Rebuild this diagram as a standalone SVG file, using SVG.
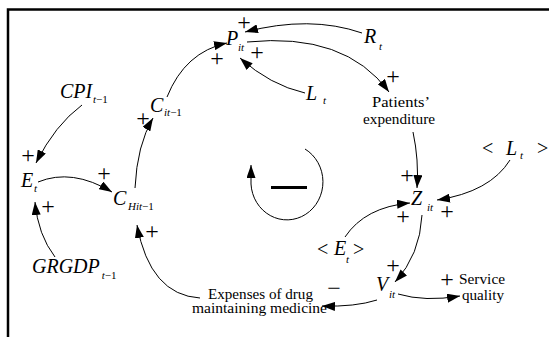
<svg xmlns="http://www.w3.org/2000/svg" width="549" height="337" viewBox="0 0 549 337">
<style>
  text { fill: #000; }
  .v { font-style: italic; font-size: 20px; }
  .s { font-style: italic; font-size: 11px; }
  .n { font-style: normal; }
  .lab { font-size: 14px; }
  .sym { font-size: 20px; }
  .pl { font-size: 24px; text-anchor: middle; }
  .c { fill: none; stroke: #000; stroke-width: 1; marker-end: url(#ah); }
</style>
<defs>
  <marker id="ah" markerUnits="userSpaceOnUse" markerWidth="13" markerHeight="9" refX="13" refY="4.5" orient="auto">
    <path d="M0,0 L13,4.5 L0,9 Z" fill="#000"/>
  </marker>
</defs>
<rect width="549" height="337" fill="#fff"/>
<path d="M8,337 V9.5 H549" fill="none" stroke="#000" stroke-width="2.5"/>

<g id="connectors">
  <path class="c" d="M82,105 Q55,125 36,163"/>
  <path class="c" d="M55,257 Q38,235 35,202"/>
  <path class="c" d="M38,182 Q72,168 112,192"/>
  <path class="c" d="M135,188 Q137,145 153,118"/>
  <path class="c" d="M167,97 Q185,52 227,43"/>
  <path class="c" d="M362,33 Q310,15 245,32"/>
  <path class="c" d="M247,42 Q345,32 389,92"/>
  <path class="c" d="M305,93 Q270,85 240,58"/>
  <path class="c" d="M413,132 Q419,160 417,188"/>
  <path class="c" d="M510,160 Q490,192 437,200"/>
  <path class="c" d="M345,237 Q365,207 410,203"/>
  <path class="c" d="M422,215 Q420,255 395,282"/>
  <path class="c" d="M377,300 Q355,307 322,306"/>
  <path class="c" d="M398,294 Q425,302 460,296"/>
  <path class="c" d="M200,298 Q150,295 137,225"/>
  <path class="c" d="M305,149 A36,38 0 1 1 251,184 L251,165"/>
  <rect x="271" y="186" width="36" height="3" fill="#000"/>
</g>

<g font-family="Liberation Serif, serif">
<g id="plus-signs">
  <text class="pl" x="244" y="30">+</text>
  <text class="pl" x="217" y="66">+</text>
  <text class="pl" x="257" y="60">+</text>
  <text class="pl" x="143" y="126">+</text>
  <text class="pl" x="28" y="163">+</text>
  <text class="pl" x="104" y="181">+</text>
  <text class="pl" x="48" y="214">+</text>
  <text class="pl" x="152" y="239">+</text>
  <text class="pl" x="393" y="84">+</text>
  <text class="pl" x="407" y="183">+</text>
  <text class="pl" x="403" y="224">+</text>
  <text class="pl" x="447" y="219">+</text>
  <text class="pl" x="393" y="273">+</text>
  <text class="pl" x="447" y="287">+</text>
  <text class="pl" x="334" y="296">−</text>
</g>

<g id="node-P">
  <text class="v" x="226" y="45">P</text><text class="s" x="238" y="51">it</text>
</g>
<g id="node-R">
  <text class="v" x="364" y="43">R</text><text class="s" x="379" y="50">t</text>
</g>
<g id="node-L">
  <text class="v" x="306" y="100">L</text><text class="s" x="323" y="104">t</text>
</g>
<g id="node-CPI">
  <text class="v" x="60" y="98">CPI</text><text class="s" x="93" y="103">t<tspan class="n">−1</tspan></text>
</g>
<g id="node-E">
  <text class="v" x="21" y="187">E</text><text class="s" x="34" y="192">t</text>
</g>
<g id="node-CHit">
  <text class="v" x="113" y="205">C</text><text class="s" x="128" y="210" font-size="10.5">Hit<tspan class="n">−1</tspan></text>
</g>
<g id="node-Cit">
  <text class="v" x="150" y="112">C</text><text class="s" x="164" y="116">it<tspan class="n">−1</tspan></text>
</g>
<g id="node-GRGDP">
  <text class="v" x="32" y="273" font-size="16.5">GRGDP<tspan dx="2" dy="6" font-size="11">t</tspan><tspan class="n" font-size="11">−1</tspan></text>
</g>
<g id="node-Z">
  <text class="v" x="411" y="205">Z</text><text class="s" x="427" y="211">it</text>
</g>
<g id="node-V">
  <text class="v" x="376" y="291">V</text><text class="s" x="389" y="298">it</text>
</g>
<g id="node-Eshadow">
  <text class="sym" x="317" y="256">&lt;</text><text class="v" x="334" y="255">E</text><text class="s" x="346" y="263">t</text><text class="sym" x="353" y="256">&gt;</text>
</g>
<g id="node-Lshadow">
  <text class="sym" x="482" y="155">&lt;</text><text class="v" x="506" y="155">L</text><text class="s" x="520" y="159">t</text><text class="sym" x="537" y="155">&gt;</text>
</g>
<g id="node-patients">
  <text class="lab" x="401" y="107" text-anchor="middle" textLength="58" lengthAdjust="spacingAndGlyphs">Patients’</text>
  <text class="lab" x="399" y="124" text-anchor="middle" textLength="72" lengthAdjust="spacingAndGlyphs">expenditure</text>
</g>
<g id="node-expenses">
  <text class="lab" x="208" y="299" font-size="13" textLength="105" lengthAdjust="spacingAndGlyphs">Expenses of drug</text>
  <text class="lab" x="192" y="313" font-size="13" textLength="135" lengthAdjust="spacingAndGlyphs">maintaining medicine</text>
</g>
<g id="node-service">
  <text class="lab" x="459" y="284" textLength="46" lengthAdjust="spacingAndGlyphs">Service</text>
  <text class="lab" x="462" y="300" textLength="42" lengthAdjust="spacingAndGlyphs">quality</text>
</g>
</g>
</svg>
